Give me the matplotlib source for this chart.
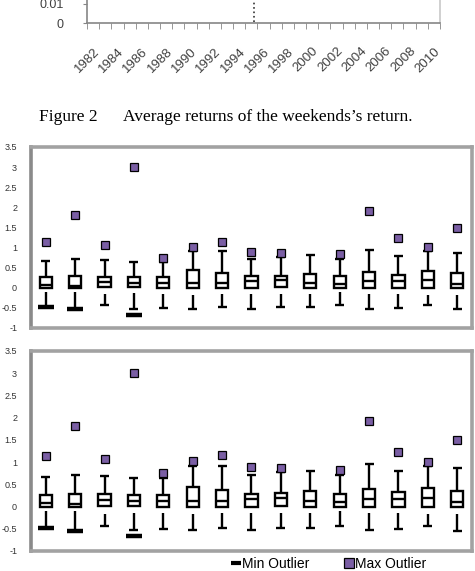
import numpy as np
import matplotlib
matplotlib.use("Agg")
import matplotlib.pyplot as plt
from matplotlib.lines import Line2D

# previous figure (only its bottom edge is on the page)
years = list(range(1982, 2011))
year_labels = [str(y) for y in years[::2]]
break_year = 1995.2

# box plot data, 15 groups (both panels show the same numbers)
groups = list(range(1, 16))
q1 = [0.0, 0.0, 0.01, 0.01, 0.0, 0.0, 0.0, 0.0, 0.01, 0.0, 0.0, 0.0, 0.0, 0.0, 0.0]
median = [0.07, 0.05, 0.14, 0.12, 0.13, 0.12, 0.12, 0.17, 0.19, 0.12, 0.10, 0.17, 0.16, 0.20, 0.10]
q3 = [0.27, 0.29, 0.28, 0.26, 0.26, 0.43, 0.37, 0.29, 0.30, 0.35, 0.29, 0.40, 0.32, 0.41, 0.36]
whisk_hi = [0.66, 0.72, 0.68, 0.65, 0.64, 0.92, 0.92, 0.72, 0.77, 0.81, 0.72, 0.95, 0.80, 0.92, 0.87]
whisk_lo_top = [-0.11, -0.11, -0.16, -0.14, -0.15, -0.17, -0.15, -0.15, -0.15, -0.15, -0.10, -0.15, -0.15, -0.17, -0.17]
whisk_lo = [-0.49, -0.54, -0.44, -0.53, -0.50, -0.53, -0.49, -0.52, -0.48, -0.48, -0.44, -0.52, -0.50, -0.44, -0.54]
max_out = [1.14, 1.82, 1.07, 3.0, 0.75, 1.02, 1.15, 0.89, 0.87, np.nan, 0.83, 1.92, 1.23, 1.01, 1.49]
min_out = [-0.49, -0.54, np.nan, -0.67] + [np.nan] * 11
y_ticks = [-1, -0.5, 0, 0.5, 1, 1.5, 2, 2.5, 3, 3.5]

purple = '#7a5ea4'
W, H = 475, 571
fig = plt.figure(figsize=(W / 100, H / 100), dpi=100)


def px_axes(left, top, right, bottom):
    return fig.add_axes([left / W, 1 - bottom / H, (right - left) / W, (bottom - top) / H])


# ---- cut-off chart at the top ----
ax0 = px_axes(87, -100, 440, 23)
ax0.set_xlim(1981.5, 2010.5)
ax0.set_ylim(0, 0.01 * 123 / 19)
ax0.set_yticks([0, 0.01])
ax0.set_yticklabels(['0', '0.01'], fontsize=9, color='#404040', family='Liberation Sans')
ax0.tick_params(axis='y', length=3, color='#868686', pad=14)
ax0.set_xticks(years[::2])
ax0.set_xticklabels(year_labels, rotation=45, ha='right', rotation_mode='anchor',
                    fontsize=9.5, color='#404040', family='Liberation Sans')
ax0.set_xticks(np.arange(1981.5, 2011, 1), minor=True)
ax0.tick_params(axis='x', which='major', length=0, pad=16)
ax0.tick_params(axis='x', which='minor', length=4, color='#868686', direction='out')
for s in ['left', 'bottom', 'right']:
    ax0.spines[s].set_color('#868686')
    ax0.spines[s].set_linewidth(1.2)
ax0.spines['right'].set_color('#c8c8c8')
ax0.plot([break_year, break_year], [0.0007, 0.02], color='#333333', lw=1.2, ls=':')

# caption
fig.text(39 / W, 1 - 117 / H, 'Figure 2', fontsize=12.5, family='Liberation Serif', va='center')
fig.text(123 / W, 1 - 117 / H, 'Average returns of the weekends\u2019s return.', fontsize=12.5,
         family='Liberation Serif', va='center')


def box_panel(ax):
    x = np.array(groups)
    lo = np.array(q1)
    hi = np.array(q3)
    ax.bar(x, hi - lo, bottom=lo, width=0.42, color='white', edgecolor='black', lw=1.7, zorder=3)
    ax.hlines(median, x - 0.21, x + 0.21, color='black', lw=1.7, zorder=4)
    ax.vlines(x, hi, whisk_hi, color='black', lw=1.7, zorder=2)
    ax.hlines(whisk_hi, x - 0.15, x + 0.15, color='black', lw=1.7, zorder=2)
    ax.vlines(x, whisk_lo_top, whisk_lo, color='black', lw=1.7, zorder=2)
    ax.hlines(whisk_lo, x - 0.15, x + 0.15, color='black', lw=1.7, zorder=2)
    ax.plot(x, min_out, ls='none', marker='_', ms=11, mew=3.2, color='black', zorder=5)
    ax.plot(x, max_out, ls='none', marker='s', ms=6, mfc=purple, mec='black', mew=0.9, zorder=5)
    ax.set_xlim(0.5, 15.5)
    ax.set_ylim(-1, 3.5)
    ax.set_xticks([])
    ax.set_yticks(y_ticks)
    ax.set_yticklabels([f'{t:g}' for t in y_ticks], fontsize=6.5, color='#333333',
                       family='Liberation Sans')
    ax.tick_params(axis='y', length=0, pad=10)
    for s in ax.spines.values():
        s.set_color('#a2a2a2')
        s.set_linewidth(2.6)
    ax.spines['left'].set_color('#8a8a8a')


ax1 = px_axes(31, 147, 472, 328)
box_panel(ax1)
ax2 = px_axes(31, 351, 472, 551)
box_panel(ax2)

handles = [Line2D([], [], color='black', lw=3, solid_capstyle='butt'),
           Line2D([], [], ls='none', marker='s', ms=7, mfc=purple, mec='black', mew=0.9)]
fig.legend(handles, ['Min Outlier', 'Max Outlier'], loc='center left',
           bbox_to_anchor=(231 / W, 1 - 564 / H), ncol=2, frameon=False,
           prop={'family': 'Liberation Sans', 'size': 10}, handlelength=0.7,
           handletextpad=0.1, columnspacing=2.5, borderaxespad=0, borderpad=0)

fig.savefig('out.png', dpi=100)
